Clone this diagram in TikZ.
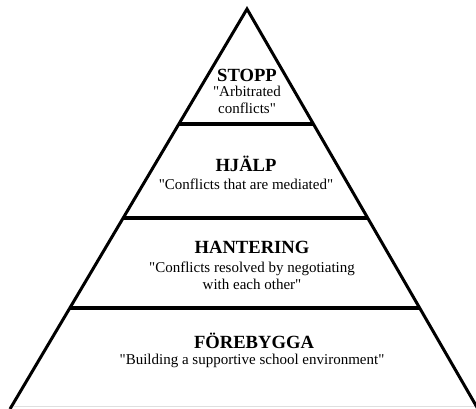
\documentclass[tikz,border=0pt]{standalone}
\usepackage{fontspec}
\setmainfont{Liberation Serif}[Ligatures=TeXOff]
\begin{document}
\begin{tikzpicture}[x=1pt,y=-1pt,
  edge/.style={line width=3pt},
  band/.style={line width=3.6pt},
  ttl/.style={font=\fontsize{18.6}{20}\selectfont\bfseries, inner sep=0pt},
  sub/.style={font=\fontsize{15}{17.5}\selectfont, inner sep=0pt, align=center}]
\useasboundingbox (0,0) rectangle (476,408);
\fill[white] (0,0) rectangle (476,408);
\coordinate (apex) at (247,9);
\coordinate (bl) at (10,409);
\coordinate (br) at (478,409);
\draw[gray!25, line width=1pt] (14,406.5) -- (476,406.5);
\draw[edge, line join=miter] (bl) -- (apex) -- (br);
\foreach \yy/\nm in {124/a,218/b,308/c}{
  \path (apex) -- (bl) coordinate[pos={(\yy-9)/400}] (l\nm);
  \path (apex) -- (br) coordinate[pos={(\yy-9)/400}] (r\nm);
  \draw[band] (l\nm) -- (r\nm);
}
\node[ttl] (t1) at (247,75) {STOPP};
\node[sub] (s1) at (247,100) {"Arbitrated\\conflicts"};
\node[ttl] (t2) at (246,164) {HJÄLP};
\node[sub] (s2) at (246,184) {"Conflicts that are mediated"};
\node[ttl] (t3) at (252,247) {HANTERING};
\node[sub] (s3) at (252,276) {"Conflicts resolved by negotiating\\with each other"};
\node[ttl] (t4) at (254,341) {FÖREBYGGA};
\node[sub] (s4) at (252,361) {"Building a supportive school environment"};
\end{tikzpicture}
\end{document}
